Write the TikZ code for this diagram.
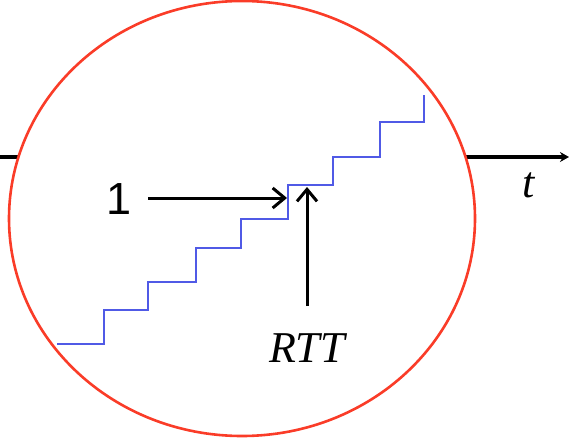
\documentclass[tikz,border=0pt]{standalone}
\usepackage{fontspec}
\setmainfont{Liberation Serif}
\newfontfamily\arialfont{Liberation Sans}
\usetikzlibrary{arrows.meta}
\definecolor{ellred}{RGB}{250,60,40}
\definecolor{stairblue}{RGB}{80,90,230}
\tikzset{
  axisline/.style={line width=3.5pt, black, -{Stealth[length=9pt,width=10pt]}},
  ptr/.style={line width=3pt, black, -{Straight Barb[length=12pt,width=20pt]}},
  lbl/.style={inner sep=0pt, font=\fontsize{44}{44}\selectfont\itshape},
}
\begin{document}
\begin{tikzpicture}[x=1pt,y=-1pt]
\useasboundingbox (0,0) rectangle (569,441);
\coordinate (axl) at (0,157);
\coordinate (axr) at (569,157);
\draw[axisline] (axl) -- (axr);
\draw[ellred, line width=2.6pt, fill=white] (242,218.5) ellipse [x radius=233, y radius=217.5];
\draw[stairblue, line width=2.6pt] (57,344) -- (104,344) -- (104,310) -- (148,310) -- (148,282) -- (196,282) -- (196,248) -- (241,248) -- (241,219) -- (288,219) -- (288,185) -- (333,185) -- (333,157) -- (380,157) -- (380,122) -- (424,122) -- (424,95);
\node[inner sep=0pt, font=\arialfont\fontsize{45}{45}\selectfont] (one) at (119,199) {1};
\coordinate (oneS) at (148,198);
\coordinate (oneE) at (287,198);
\draw[ptr] (oneS) -- (oneE);
\node[lbl, anchor=base] (rtt) at (307,362) {RTT};
\coordinate (rttS) at (307,306);
\coordinate (rttE) at (307,187);
\draw[ptr] (rttS) -- (rttE);
\node[lbl, anchor=base] (t) at (529,197) {t};
\end{tikzpicture}
\end{document}
